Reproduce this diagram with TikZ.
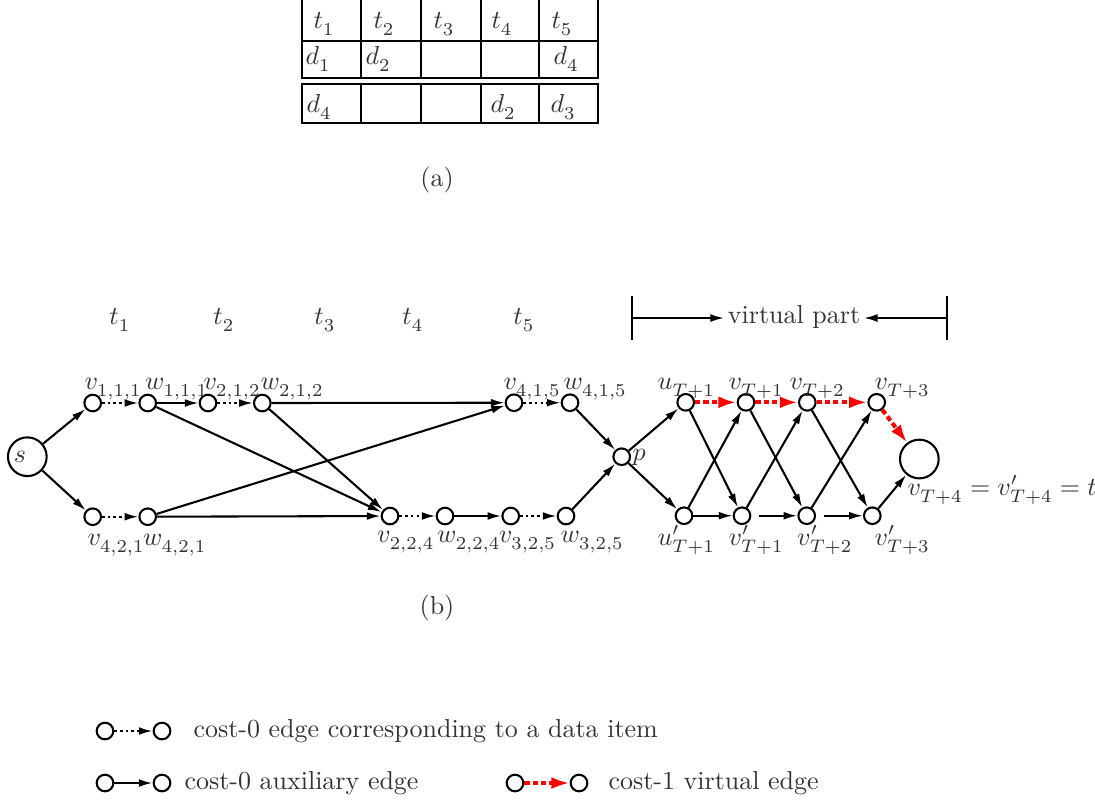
\documentclass[tikz,border=0pt]{standalone}
\usetikzlibrary{arrows.meta}
\font\mysubsy=cmsy10 \fontdimen16\mysubsy=3pt \fontdimen17\mysubsy=3pt
\font\mysubsyb=cmsy7 \fontdimen16\mysubsyb=2.2pt \fontdimen17\mysubsyb=2.2pt
\begin{document}
\begin{tikzpicture}[x=0.385pt,y=-0.385pt,
  txt/.style={text=black!80},
  vx/.style={circle,draw=black,line width=0.8pt,minimum size=6.4pt,inner sep=0pt},
  big/.style={circle,draw=black,line width=0.8pt,minimum size=14.9pt,inner sep=0pt},
  lab/.style={txt,anchor=base west,inner sep=0pt},
  aux/.style={line width=0.8pt,-{Latex[length=5.3pt,width=3pt]}},
  auxg/.style={line width=0.8pt,-{Latex[length=5.3pt,width=3pt,fill=green!35!black]}},
  dat/.style={aux,dash pattern=on 1pt off 1.2pt},
  virt/.style={draw=red,line width=1.6pt,dash pattern=on 2pt off 1.2pt,-{Latex[length=7pt,width=4.6pt]}},
  tab/.style={line width=0.8pt},
  ]
\useasboundingbox (0,0) rectangle (1095,803);
% ---------- table (a)
\draw[tab] (302,-3) rectangle (598,78);
\draw[tab] (302,40.7) -- (598,40.7);
\foreach \c in {361,420.7,480.7,539.3} \draw[tab] (\c,-3) -- (\c,78);
\draw[tab] (302,84.3) rectangle (598,122.7);
\foreach \c in {361,420.7,480.7,539.3} \draw[tab] (\c,84.3) -- (\c,122.7);
\node[lab] (ta1) at (313,28) {$t_1$};
\node[lab] (ta2) at (373,28) {$t_2$};
\node[lab] (ta3) at (433,28) {$t_3$};
\node[lab] (ta4) at (491,28) {$t_4$};
\node[lab] (ta5) at (551,28) {$t_5$};
\node[lab] (da1) at (305,64) {$d_1$};
\node[lab] (da2) at (365,64) {$d_2$};
\node[lab] (da3) at (553,64) {$d_4$};
\node[lab] (db1) at (306,112) {$d_4$};
\node[lab] (db2) at (490,112) {$d_2$};
\node[lab] (db3) at (550,112) {$d_3$};
\node[txt] (capa) at (437,180) {(a)};
% ---------- time labels
\node[txt] (T1) at (120,320) {$t_1$};
\node[txt] (T2) at (224,320) {$t_2$};
\node[txt] (T3) at (325,320) {$t_3$};
\node[txt] (T4) at (413,320) {$t_4$};
\node[txt] (T5) at (524,320) {$t_5$};
% ---------- virtual part bracket
\draw[line width=0.9pt] (632,296) -- (632,340);
\draw[line width=0.9pt] (947,296) -- (947,340);
\coordinate (vl) at (632,318);
\coordinate (vr) at (947,318);
\node[txt,anchor=base,inner sep=1.2pt] (vp) at (794,323.5) {virtual part};
\draw[aux] (vl) -- (vl -| vp.west);
\draw[aux] (vr) -- (vr -| vp.east);
% ---------- graph nodes
\node[big] (s) at (27.3,456.7) {};
\node[txt,inner sep=0pt] (sl) at (20,457) {$s$};
\node[vx] (v111) at (92.7,403) {};
\node[vx] (w111) at (147.7,403) {};
\node[vx] (v212) at (208,403) {};
\node[vx] (w212) at (262.3,403) {};
\node[vx] (v415) at (514,402.7) {};
\node[vx] (w415) at (570,402.7) {};
\node[vx] (v421) at (92.7,516.7) {};
\node[vx] (w421) at (147.7,516.7) {};
\node[vx] (v224) at (390,516) {};
\node[vx] (w224) at (445,516) {};
\node[vx] (v325) at (510.7,516) {};
\node[vx] (w325) at (566,516) {};
\node[vx] (p) at (621.7,456.7) {};
\node[vx] (uT1) at (685.7,402.3) {};
\node[vx] (vT1) at (746,402.3) {};
\node[vx] (vT2) at (807.3,402.3) {};
\node[vx] (vT3) at (876.7,402.3) {};
\node[vx] (upT1) at (684,515.7) {};
\node[vx] (vpT1) at (742,515.7) {};
\node[vx] (vpT2) at (806.7,515.7) {};
\node[vx] (vpT3) at (872.3,515.7) {};
\node[big] (t) at (919.3,459) {};
% ---------- node labels
\node[lab] (lv111) at (84,389) {$v_{1,1,1}$};
\node[lab] (lw111) at (144.5,389) {$w_{1,1,1}$};
\node[lab] (lv212) at (203,389) {$v_{2,1,2}$};
\node[lab] (lw212) at (260,389) {$w_{2,1,2}$};
\node[lab] (lv415) at (503,389) {$v_{4,1,5}$};
\node[lab] (lw415) at (563,389) {$w_{4,1,5}$};
\node[lab] (lv421) at (87,545) {$v_{4,2,1}$};
\node[lab] (lw421) at (142.7,545) {$w_{4,2,1}$};
\node[lab] (lv224) at (376.7,542) {$v_{2,2,4}$};
\node[lab] (lw224) at (436.7,542) {$w_{2,2,4}$};
\node[lab] (lv325) at (498.3,542) {$v_{3,2,5}$};
\node[lab] (lw325) at (560,542) {$w_{3,2,5}$};
\node[lab] (lp) at (632,460) {$p$};
\node[lab] (luT1) at (657,389) {$u_{T+1}$};
\node[lab] (lvT1) at (728,389) {$v_{T+1}$};
\node[lab] (lvT2) at (789,389) {$v_{T+2}$};
\node[lab] (lvT3) at (874,389) {$v_{T+3}$};
\node[lab] (lupT1) at (657,545) {$u'_{T+1}$};
\node[lab] (lvpT1) at (728,545) {$v'_{T+1}$};
\node[lab] (lvpT2) at (796.7,545) {$v'_{T+2}$};
\node[lab] (lvpT3) at (874,545) {$v'_{T+3}$};
\node[lab] (lt) at (907,495) {$v_{T+4}=v'_{T+4}=t$};
% ---------- edges
\draw[aux] (s) -- (v111);
\draw[aux] (s) -- (v421);
\draw[dat] (v111) -- (w111);
\draw[aux] (w111) -- (v212);
\draw[dat] (v212) -- (w212);
\draw[aux] (w212) -- (v415);
\draw[aux] (w212) -- (v224);
\draw[aux] (w111) -- (v224);
\draw[dat] (v421) -- (w421);
\draw[aux] (w421) -- (v415);
\draw[aux] (w421) -- (v224);
\draw[dat] (v224) -- (w224);
\draw[aux] (w224) -- (v325);
\draw[dat] (v325) -- (w325);
\draw[dat] (v415) -- (w415);
\draw[aux] (w415) -- (p);
\draw[aux] (w325) -- (p);
\draw[aux] (p) -- (uT1);
\draw[aux] (p) -- (upT1);
\draw[aux] (uT1) -- (vpT1);
\draw[aux] (upT1) -- (vT1);
\draw[auxg] (upT1) -- (vpT1);
\draw[aux] (vT1) -- (vpT2);
\draw[aux] (vpT1) -- (vT2);
\draw[auxg,shorten <=3pt] (vpT1) -- (vpT2);
\draw[aux] (vT2) -- (vpT3);
\draw[aux] (vpT2) -- (vT3);
\draw[auxg,shorten <=3pt] (vpT2) -- (vpT3);
\draw[aux] (vpT3) -- (t);
\draw[virt] (uT1) -- (vT1);
\draw[virt] (vT1) -- (vT2);
\draw[virt] (vT2) -- (vT3);
\draw[virt] (vT3) -- (t);
\node[txt] (capb) at (437,608) {(b)};
% ---------- legend
\node[vx] (L1a) at (105,731) {};
\node[vx] (L1b) at (162,731) {};
\draw[dat] (L1a) -- (L1b);
\node[lab] (L1t) at (193,737) {cost-0 edge corresponding to a data item};
\node[vx] (L2a) at (105,783) {};
\node[vx] (L2b) at (162,783) {};
\draw[aux] (L2a) -- (L2b);
\node[lab] (L2t) at (184,789) {cost-0 auxiliary edge};
\node[vx] (L3a) at (515,783) {};
\node[vx] (L3b) at (579,783) {};
\draw[virt] (L3a) -- (L3b);
\node[lab] (L3t) at (608,789) {cost-1 virtual edge};
\end{tikzpicture}
\end{document}
